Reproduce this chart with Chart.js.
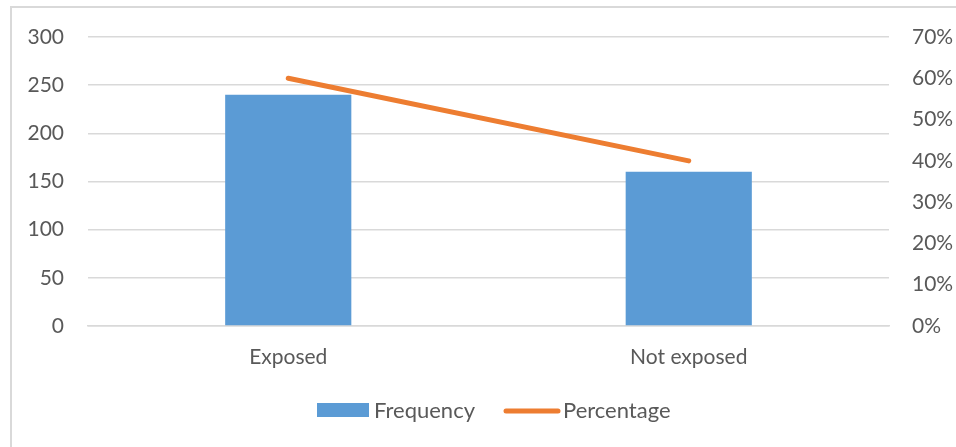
<!DOCTYPE html>
<html>
<head>
<meta charset="utf-8">
<script src="https://cdn.jsdelivr.net/npm/chart.js@4/dist/chart.umd.min.js"></script>
<style>
  html, body { margin: 0; padding: 0; background: #fff; }
  body { width: 956px; height: 447px; position: relative; overflow: hidden; }
  #frame { position: absolute; left: 10px; top: 6px; width: 980px; height: 480px;
           border: 2px solid #d9d9d9; box-sizing: border-box; }
  #wrap { position: absolute; left: 0; top: 0; width: 956px; height: 447px; }
</style>
</head>
<body>
<div id="frame"></div>
<div id="wrap"><canvas id="c" width="956" height="447"></canvas></div>
<script>
// Exposure counts and their share of the total
const categories = ['Exposed', 'Not exposed'];
const frequency = [240, 160];
const percentage = [60, 40];
const countTicks = [0, 50, 100, 150, 200, 250, 300];
const percentTicks = [0, 10, 20, 30, 40, 50, 60, 70];

const FONT = 'Lato, "Liberation Sans", sans-serif';
const TEXT = '#595959';
const GRID = '#d9d9d9';
const BLUE = '#5B9BD5';
const ORANGE = '#ED7D31';

// Legend drawn underneath the axis labels: box for bars, stroke for the line
const bottomLegend = {
  id: 'bottomLegend',
  afterDraw(chart) {
    const ctx = chart.ctx;
    const ds = chart.data.datasets;
    const barDs = ds.find(d => d.type === 'bar');
    const lineDs = ds.find(d => d.type === 'line');
    const y = 410;
    ctx.save();
    ctx.font = '22px ' + FONT;
    ctx.textBaseline = 'middle';
    // bar entry
    ctx.fillStyle = barDs.backgroundColor;
    ctx.fillRect(317, y - 7, 52, 14);
    ctx.fillStyle = TEXT;
    ctx.fillText(barDs.label, 374, y + 1);
    // line entry
    ctx.strokeStyle = lineDs.borderColor;
    ctx.lineWidth = 5;
    ctx.lineCap = 'round';
    ctx.beginPath();
    ctx.moveTo(506, y + 1);
    ctx.lineTo(558, y + 1);
    ctx.stroke();
    ctx.fillText(lineDs.label, 563, y + 1);
    ctx.restore();
  }
};

new Chart(document.getElementById('c'), {
  data: {
    labels: categories,
    datasets: [
      {
        type: 'bar',
        label: 'Frequency',
        data: frequency,
        yAxisID: 'y',
        backgroundColor: BLUE,
        barPercentage: 0.315,
        categoryPercentage: 1.0,
        order: 1
      },
      {
        type: 'line',
        label: 'Percentage',
        data: percentage,
        yAxisID: 'yPct',
        borderColor: ORANGE,
        backgroundColor: ORANGE,
        borderWidth: 5,
        borderCapStyle: 'round',
        pointRadius: 0,
        tension: 0,
        order: 0
      }
    ]
  },
  options: {
    responsive: false,
    animation: false,
    layout: { padding: { top: 37, bottom: 0, left: 0, right: 0 } },
    plugins: { legend: { display: false }, tooltip: { enabled: false } },
    scales: {
      x: {
        grid: { display: false, drawTicks: false },
        border: { display: true, color: GRID, width: 1.5 },
        ticks: { color: TEXT, font: { family: FONT, size: 21 }, padding: 19, maxRotation: 0 },
        afterFit(scale) { scale.height = 121; }
      },
      y: {
        position: 'left',
        min: 0, max: 300,
        afterBuildTicks(scale) { scale.ticks = countTicks.map(v => ({ value: v })); },
        grid: { color: GRID, lineWidth: 1.5, drawTicks: false },
        border: { display: false },
        ticks: { color: TEXT, font: { family: FONT, size: 21 }, padding: 24 },
        afterFit(scale) { scale.width = 88; }
      },
      yPct: {
        position: 'right',
        min: 0, max: 70,
        afterBuildTicks(scale) { scale.ticks = percentTicks.map(v => ({ value: v })); },
        grid: { display: false, drawTicks: false },
        border: { display: false },
        ticks: { color: TEXT, font: { family: FONT, size: 21 }, padding: 23,
                 callback: v => v + '%' },
        afterFit(scale) { scale.width = 67; }
      }
    }
  },
  plugins: [bottomLegend]
});
</script>
</body>
</html>
